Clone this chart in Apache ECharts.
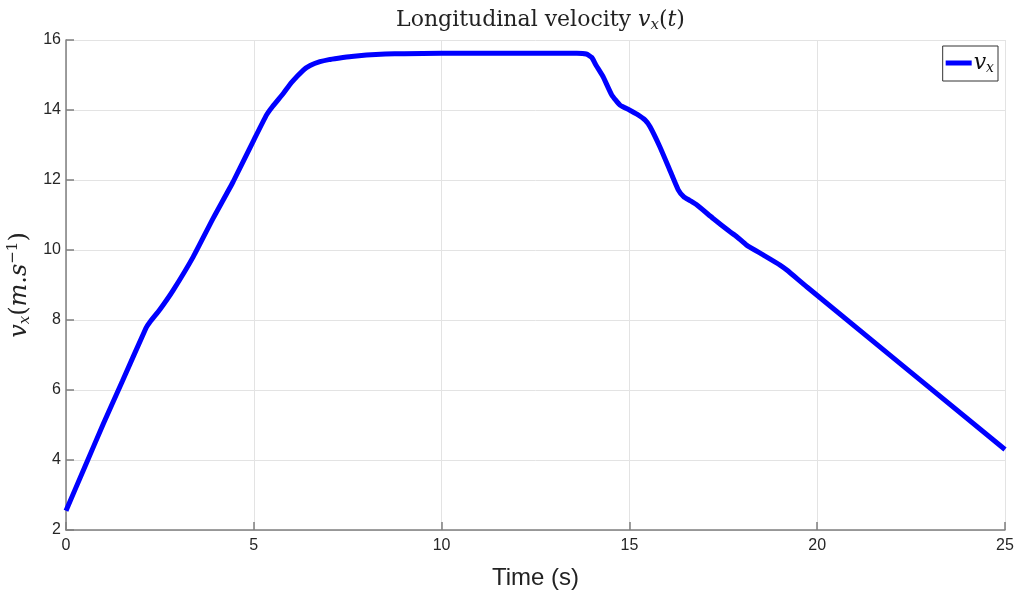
<!DOCTYPE html>
<html>
<head>
<meta charset="utf-8">
<script src="https://cdn.jsdelivr.net/npm/echarts@6/dist/echarts.min.js"></script>
<style>html,body{margin:0;padding:0;background:#fff}#c{width:1017px;height:595px}</style>
</head>
<body>
<div id="c"></div>
<script>
const timeS = [0, 0.5, 1.0, 1.5, 2.13, 2.24, 2.5, 2.86, 3.39, 3.92, 4.45, 5.0, 5.34, 5.5, 5.79, 6.0, 6.32, 6.5, 6.76, 7.0, 7.25, 7.6, 8.0, 8.5, 9.0, 10, 11, 12, 13, 13.6, 13.85, 14.0, 14.1, 14.3, 14.53, 14.75, 15.0, 15.2, 15.42, 15.55, 15.81, 16.05, 16.3, 16.45, 16.6, 16.79, 17.23, 17.68, 17.86, 18.12, 18.56, 19.01, 19.2, 19.72, 25];
const vx = [2.55, 3.8, 5.05, 6.25, 7.77, 7.95, 8.3, 8.86, 9.81, 10.91, 11.95, 13.14, 13.86, 14.1, 14.48, 14.78, 15.14, 15.27, 15.38, 15.44, 15.48, 15.53, 15.57, 15.6, 15.61, 15.62, 15.62, 15.62, 15.62, 15.62, 15.6, 15.5, 15.3, 14.95, 14.43, 14.14, 14.0, 13.88, 13.71, 13.52, 12.95, 12.35, 11.72, 11.52, 11.42, 11.29, 10.9, 10.52, 10.38, 10.14, 9.86, 9.57, 9.42, 8.95, 4.3];
const xTicks = [0, 5, 10, 15, 20, 25];
const yTicks = [2, 4, 6, 8, 10, 12, 14, 16];

const serif = '"DejaVu Serif", "Liberation Serif", serif';
const sans = '"Liberation Sans", Arial, sans-serif';
const chart = echarts.init(document.getElementById('c'));
const axisGray = '#7f7f7f';
chart.setOption({
  animation: false,
  backgroundColor: '#fff',
  title: {
    text: 'Longitudinal velocity {v|v}{sub|x}{n|(}{v|t}{n|)}',
    left: 535.5, textAlign: 'center', top: 3,
    textStyle: {
      fontFamily: serif, fontWeight: 'normal', fontSize: 22, color: '#222',
      rich: {
        v: {fontFamily: serif, fontStyle: 'italic', fontSize: 22, color: '#222'},
        n: {fontFamily: serif, fontSize: 22, color: '#222'},
        sub: {fontFamily: serif, fontStyle: 'italic', fontSize: 15, color: '#222', padding: [10, 0, 0, 0]}
      }
    }
  },
  legend: {
    right: 19, top: 46,
    orient: 'vertical',
    backgroundColor: '#fff', borderColor: '#333', borderWidth: 1, borderRadius: 0,
    padding: [6, 4, 6, 3],
    itemWidth: 26, itemHeight: 5, itemGap: 0,
    icon: 'rect',
    formatter: () => '{v|v}{sub|x}',
    textStyle: {
      padding: [0, 0, 0, -3],
      rich: {
        v: {fontFamily: serif, fontStyle: 'italic', fontSize: 22, color: '#111'},
        sub: {fontFamily: serif, fontStyle: 'italic', fontSize: 14, color: '#111', padding: [10, 0, 0, 0]}
      }
    }
  },
  grid: {left: 66, right: 12, top: 40, bottom: 65, containLabel: false, outerBoundsMode: 'none'},
  xAxis: {
    type: 'value', min: 0, max: 25, interval: 5,
    name: 'Time (s)', nameLocation: 'middle', nameGap: 36,
    nameTextStyle: {fontFamily: sans, fontSize: 24, color: '#222'},
    axisLine: {show: true, lineStyle: {color: axisGray, width: 1.5}},
    axisTick: {show: true, inside: true, length: 8, lineStyle: {color: axisGray, width: 1.5}},
    axisLabel: {fontFamily: sans, fontSize: 16, color: '#262626', margin: 8,
      formatter: v => xTicks.includes(v) ? String(v) : ''},
    splitLine: {show: true, lineStyle: {color: '#e3e3e3', width: 1}}
  },
  yAxis: {
    type: 'value', min: 2, max: 16, interval: 2,
    name: '{v|v}{sub|x}{n|(}{v|m}{n|.}{v|s}{sup|−1}{n|)}',
    nameLocation: 'middle', nameRotate: 90, nameGap: 26,
    nameTextStyle: {
      fontFamily: serif, fontSize: 24, color: '#222',
      rich: {
        v: {fontFamily: serif, fontStyle: 'italic', fontSize: 24, color: '#222'},
        n: {fontFamily: serif, fontSize: 24, color: '#222'},
        sub: {fontFamily: serif, fontStyle: 'italic', fontSize: 15, color: '#222', padding: [11, 0, 0, 0]},
        sup: {fontFamily: serif, fontSize: 15, color: '#222', padding: [0, 0, 13, 0]}
      }
    },
    axisLine: {show: true, lineStyle: {color: axisGray, width: 1.5}},
    axisTick: {show: true, inside: true, length: 8, lineStyle: {color: axisGray, width: 1.5}},
    axisLabel: {fontFamily: sans, fontSize: 16, color: '#262626', margin: 5,
      formatter: v => yTicks.includes(v) ? String(v) : ''},
    splitLine: {show: true, lineStyle: {color: '#e3e3e3', width: 1}}
  },
  series: [{
    name: 'vx',
    type: 'line',
    data: timeS.map((t, i) => [t, vx[i]]),
    showSymbol: false, symbol: 'none',
    smooth: 0.15,
    lineStyle: {color: '#0000ff', width: 5},
    itemStyle: {color: '#0000ff'}
  }]
});
</script>
</body>
</html>
